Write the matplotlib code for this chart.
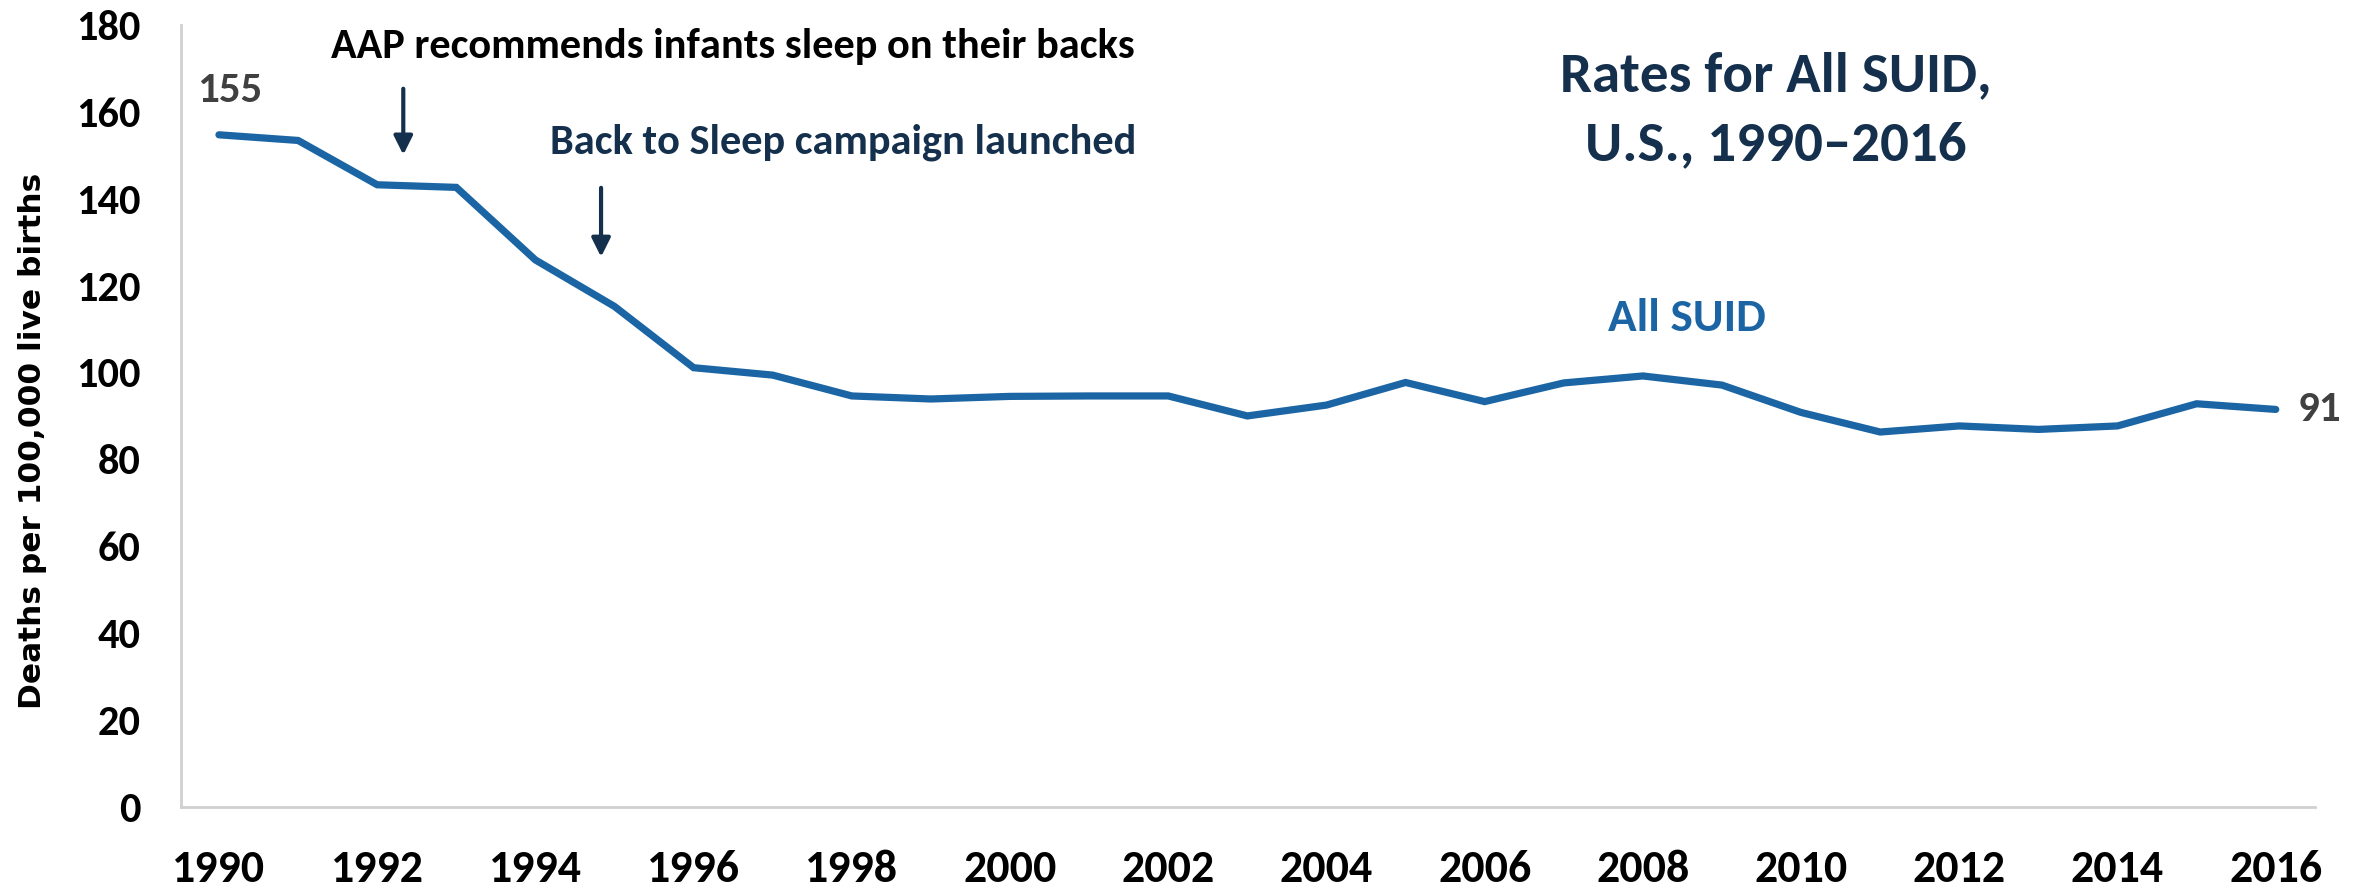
import matplotlib
matplotlib.use("Agg")
import matplotlib.pyplot as plt
from matplotlib import font_manager as fm

years = list(range(1990, 2017))
rates = [154.7, 153.4, 143.2, 142.6, 125.9, 115.2, 101.1, 99.4, 94.6, 93.9,
         94.5, 94.6, 94.6, 90.0, 92.5, 97.7, 93.3, 97.6, 99.2, 97.1,
         90.8, 86.3, 87.7, 86.9, 87.7, 92.8, 91.5]
yticks = [0, 20, 40, 60, 80, 100, 120, 140, 160, 180]
xticks = list(range(1990, 2017, 2))

navy = "#14304d"
blue = "#1b65a4"

# Calibri-like font if there is one
installed = {f.name for f in fm.fontManager.ttflist}
main_font = "DejaVu Sans"
for cand in ["Carlito", "Roboto Condensed", "Liberation Sans Narrow"]:
    if cand in installed:
        main_font = cand
        break

plt.rcParams["font.family"] = [main_font, "DejaVu Sans"]
plt.rcParams["font.weight"] = "bold"

fig = plt.figure(figsize=(23.69, 8.88), dpi=100)
ax = fig.add_axes([0.0764, 0.0912, 0.9006, 0.8808])

ax.plot(years, rates, color=blue, lw=5.2, solid_joinstyle="miter", solid_capstyle="round")

ax.set_xlim(1989.52, 2016.49)
ax.set_ylim(0, 180)
ax.set_xticks(xticks)
ax.set_yticks(yticks)
ax.tick_params(axis="both", length=0)
ax.tick_params(axis="x", pad=30, labelsize=33)
ax.tick_params(axis="y", pad=29, labelsize=30.5)
for lab in ax.get_xticklabels() + ax.get_yticklabels():
    lab.set_fontweight("bold")

for s in ["top", "right"]:
    ax.spines[s].set_visible(False)
for s in ["left", "bottom"]:
    ax.spines[s].set_color("#d0d0d0")
    ax.spines[s].set_linewidth(2)

ax.set_ylabel("Deaths per 100,000 live births", fontsize=22.5, fontweight="bold",
              family="DejaVu Sans")
ax.yaxis.set_label_coords(-0.063, 0.468)

# end labels
ax.text(1990.14, 165, "155", fontsize=31, fontweight="bold", color="#404040",
        ha="center", va="center")
ax.annotate("91", xy=(years[-1], rates[-1]), xytext=(16, 0), textcoords="offset points",
            fontsize=31, fontweight="bold", color="#404040", ha="left", va="center")

ax.text(2008.56, 112.6, "All SUID", fontsize=34, fontweight="bold", color=blue,
        ha="center", va="center")

ax.text(2009.68, 160.4, "Rates for All SUID,\nU.S., 1990\u20132016", fontsize=41,
        fontweight="bold", color=navy, ha="center", va="center", linespacing=1.5)

ax.text(1996.50, 175.0, "AAP recommends infants sleep on their backs", fontsize=30.5,
        fontweight="bold", color="black", ha="center", va="center")
ax.text(1997.89, 153.1, "Back to Sleep campaign launched", fontsize=30.5,
        fontweight="bold", color=navy, ha="center", va="center")

arrow = dict(arrowstyle="-|>", color=navy, lw=3, mutation_scale=28, shrinkA=0, shrinkB=0)
ax.annotate("", xy=(1992.33, 150.1), xytext=(1992.33, 165.3), arrowprops=arrow)
ax.annotate("", xy=(1994.83, 126.6), xytext=(1994.83, 142.5), arrowprops=arrow)

fig.savefig("out.png", dpi=100)
